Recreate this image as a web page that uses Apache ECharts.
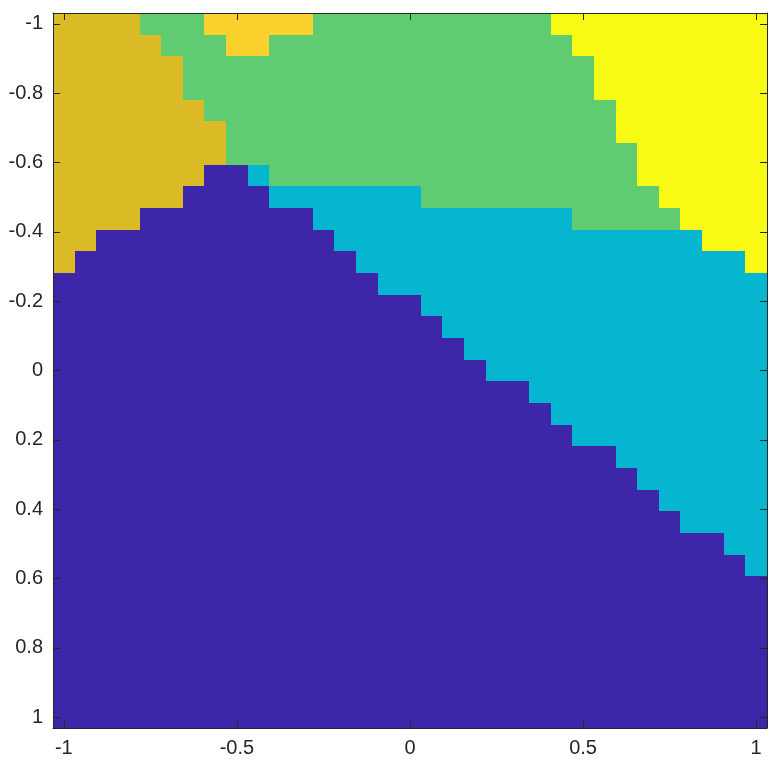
<!DOCTYPE html>
<html>
<head>
<meta charset="utf-8">
<script src="https://cdn.jsdelivr.net/npm/echarts@6/dist/echarts.min.js"></script>
<style>html,body{margin:0;padding:0;background:#fff;}#c{width:772px;height:765px;}</style>
</head>
<body>
<div id="c"></div>
<script>
// grid cell centres (x left→right, y top→bottom)
const xCenters = [-1,-0.9375,-0.875,-0.8125,-0.75,-0.6875,-0.625,-0.5625,-0.5,-0.4375,-0.375,-0.3125,-0.25,-0.1875,-0.125,-0.0625,0,0.0625,0.125,0.1875,0.25,0.3125,0.375,0.4375,0.5,0.5625,0.625,0.6875,0.75,0.8125,0.875,0.9375,1];
const yCenters = [-1,-0.9375,-0.875,-0.8125,-0.75,-0.6875,-0.625,-0.5625,-0.5,-0.4375,-0.375,-0.3125,-0.25,-0.1875,-0.125,-0.0625,0,0.0625,0.125,0.1875,0.25,0.3125,0.375,0.4375,0.5,0.5625,0.625,0.6875,0.75,0.8125,0.875,0.9375,1];
const cellSize = 0.0625;
// class of each cell, one string per row (top row first)
// B=class1 C=class2 G=class3 O=class4 A=class5 Y=class6
const rows = [
  "OOOOGGGAAAAAGGGGGGGGGGGYYYYYYYYYY",
  "OOOOOGGGAAGGGGGGGGGGGGGGYYYYYYYYY",
  "OOOOOOGGGGGGGGGGGGGGGGGGGYYYYYYYY",
  "OOOOOOGGGGGGGGGGGGGGGGGGGYYYYYYYY",
  "OOOOOOOGGGGGGGGGGGGGGGGGGGYYYYYYY",
  "OOOOOOOOGGGGGGGGGGGGGGGGGGYYYYYYY",
  "OOOOOOOOGGGGGGGGGGGGGGGGGGGYYYYYY",
  "OOOOOOOBBCGGGGGGGGGGGGGGGGGYYYYYY",
  "OOOOOOBBBBCCCCCCCGGGGGGGGGGGYYYYY",
  "OOOOBBBBBBBBCCCCCCCCCCCCGGGGGYYYY",
  "OOBBBBBBBBBBBCCCCCCCCCCCCCCCCCYYY",
  "OBBBBBBBBBBBBBCCCCCCCCCCCCCCCCCCY",
  "BBBBBBBBBBBBBBBCCCCCCCCCCCCCCCCCC",
  "BBBBBBBBBBBBBBBBBCCCCCCCCCCCCCCCC",
  "BBBBBBBBBBBBBBBBBBCCCCCCCCCCCCCCC",
  "BBBBBBBBBBBBBBBBBBBCCCCCCCCCCCCCC",
  "BBBBBBBBBBBBBBBBBBBBCCCCCCCCCCCCC",
  "BBBBBBBBBBBBBBBBBBBBBBCCCCCCCCCCC",
  "BBBBBBBBBBBBBBBBBBBBBBBCCCCCCCCCC",
  "BBBBBBBBBBBBBBBBBBBBBBBBCCCCCCCCC",
  "BBBBBBBBBBBBBBBBBBBBBBBBBBCCCCCCC",
  "BBBBBBBBBBBBBBBBBBBBBBBBBBBCCCCCC",
  "BBBBBBBBBBBBBBBBBBBBBBBBBBBBCCCCC",
  "BBBBBBBBBBBBBBBBBBBBBBBBBBBBBCCCC",
  "BBBBBBBBBBBBBBBBBBBBBBBBBBBBBBBCC",
  "BBBBBBBBBBBBBBBBBBBBBBBBBBBBBBBBC",
  "BBBBBBBBBBBBBBBBBBBBBBBBBBBBBBBBB",
  "BBBBBBBBBBBBBBBBBBBBBBBBBBBBBBBBB",
  "BBBBBBBBBBBBBBBBBBBBBBBBBBBBBBBBB",
  "BBBBBBBBBBBBBBBBBBBBBBBBBBBBBBBBB",
  "BBBBBBBBBBBBBBBBBBBBBBBBBBBBBBBBB",
  "BBBBBBBBBBBBBBBBBBBBBBBBBBBBBBBBB",
  "BBBBBBBBBBBBBBBBBBBBBBBBBBBBBBBBB"
];
const classKeys = ["B","C","G","O","A","Y"];
const classColors = ["#3E26A8","#06B5CF","#5FCC72","#DABB26","#FBD12E","#F8FA14"];
const xTicks = [-1,-0.5,0,0.5,1];
const yTicks = [-1,-0.8,-0.6,-0.4,-0.2,0,0.2,0.4,0.6,0.8,1];

const data = [];
rows.forEach((row, r) => {
  for (let c = 0; c < row.length; c++) {
    data.push([xCenters[c], yCenters[r], classKeys.indexOf(row[c])]);
  }
});
const half = cellSize / 2;
const lo = xCenters[0] - half, hi = xCenters[xCenters.length - 1] + half;
const axCol = '#262626';
function mkAxis(pos, show, ticks, inverse) {
  return {
    type: 'value', position: pos, min: lo, max: hi, inverse: !!inverse, z: 10,
    splitLine: {show: false},
    axisLine: {show: true, onZero: false, lineStyle: {color: axCol, width: 1}},
    axisTick: {show: true, inside: true, length: 7, customValues: ticks, lineStyle: {color: axCol, width: 1}},
    axisLabel: {show: show, customValues: ticks, margin: 10, color: axCol, fontSize: 20, fontFamily: 'Liberation Sans, Arial, Helvetica, sans-serif'}
  };
}
const chart = echarts.init(document.getElementById('c'), null, {renderer: 'canvas'});
chart.setOption({
  animation: false,
  grid: {left: 53, top: 13, right: 5, bottom: 37, containLabel: false},
  xAxis: [mkAxis('bottom', true, xTicks), mkAxis('top', false, xTicks)],
  yAxis: [mkAxis('left', true, yTicks, true), mkAxis('right', false, yTicks, true)],
  series: [{
    type: 'custom', clip: true, xAxisIndex: 0, yAxisIndex: 0,
    encode: {x: 0, y: 1},
    data: data,
    renderItem: function (params, api) {
      const x = api.value(0), y = api.value(1);
      const p1 = api.coord([x - half, y - half]);
      const p2 = api.coord([x + half, y + half]);
      const x0 = Math.round(Math.min(p1[0], p2[0])), x1 = Math.round(Math.max(p1[0], p2[0]));
      const y0 = Math.round(Math.min(p1[1], p2[1])), y1 = Math.round(Math.max(p1[1], p2[1]));
      return {
        type: 'rect',
        shape: {x: x0, y: y0, width: x1 - x0, height: y1 - y0},
        style: {fill: classColors[api.value(2)], stroke: null}
      };
    }
  }]
});
</script>
</body>
</html>
